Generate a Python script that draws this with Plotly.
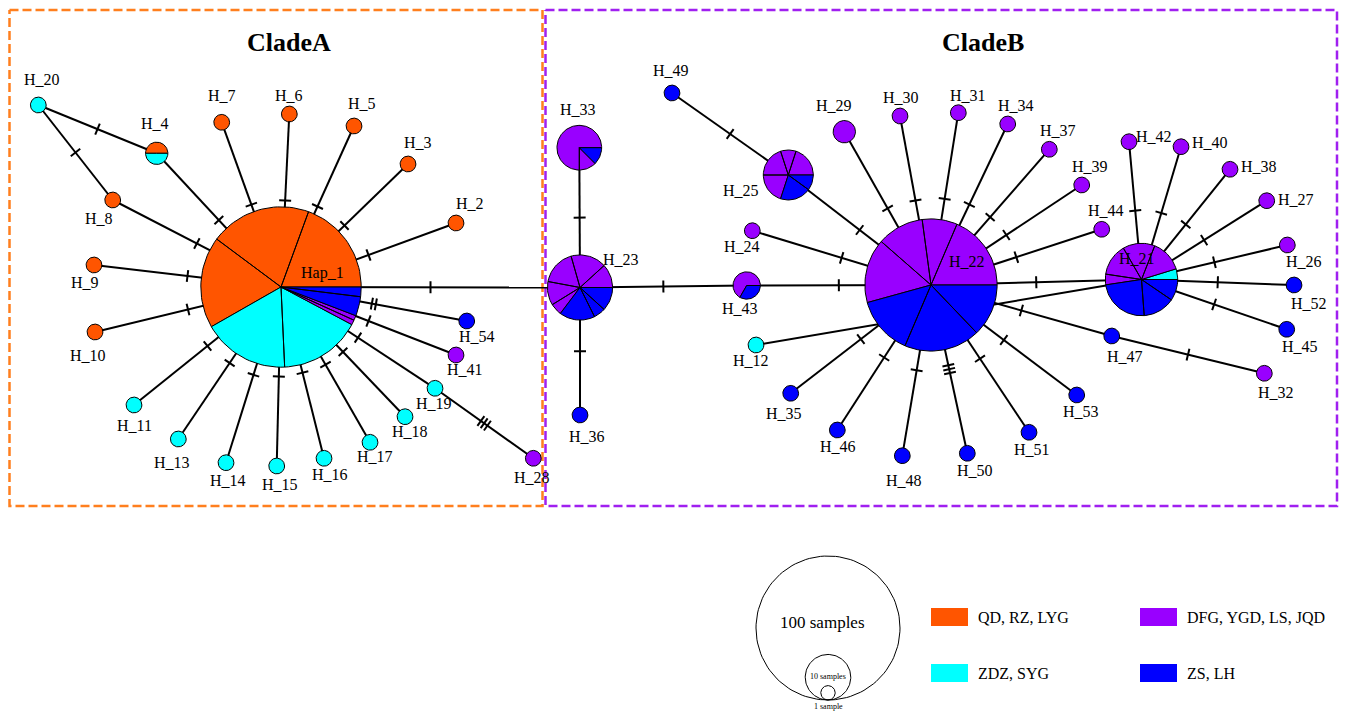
import math
import plotly.graph_objects as go

# ---------------- data ----------------
group_names = ["QD, RZ, LYG", "ZDZ, SYG", "DFG, YGD, LS, JQD", "ZS, LH"]
group_colors = ["#FF5500", "#00FFFF", "#9900FF", "#0000FF"]

hap_names = ["Hap_1", "H_2", "H_3", "H_4", "H_5", "H_6", "H_7", "H_8", "H_9", "H_10",
             "H_11", "H_13", "H_14", "H_15", "H_16", "H_17", "H_18", "H_19", "H_20",
             "H_28", "H_41", "H_54",
             "H_23", "H_33", "H_36", "H_43", "H_22", "H_25", "H_49", "H_24", "H_29",
             "H_30", "H_31", "H_34", "H_37", "H_39", "H_44", "H_21", "H_42", "H_40",
             "H_38", "H_27", "H_26", "H_52", "H_45", "H_32", "H_47", "H_53", "H_51",
             "H_50", "H_48", "H_46", "H_35", "H_12"]
hap_x = [281, 456, 408, 156.7, 354, 289.3, 221.7, 112.7, 94, 95,
         134, 178.3, 226, 276.7, 324, 370, 405, 435, 38.3,
         533.3, 456, 466.7,
         580, 579.3, 580, 746.7, 931, 788.3, 672, 752.3, 844.3,
         900, 958.3, 1007.7, 1049.3, 1081.7, 1101.7, 1141.5, 1129, 1181,
         1230, 1266.7, 1287.3, 1294, 1286.7, 1264.3, 1111.7, 1076.7, 1029,
         967.3, 902.3, 837.3, 790.7, 756]
hap_y = [287, 223, 164, 153.3, 126, 114, 122.3, 200, 265, 332,
         405, 439, 462.7, 466, 458.3, 442.3, 416.7, 388.3, 105,
         458.3, 355, 321,
         287.5, 147.7, 415, 285.5, 285, 175, 93, 230.7, 131.7,
         116, 112.7, 124, 149.3, 185, 229.3, 279.5, 141.7, 146.7,
         169.3, 200.7, 245, 285, 329.3, 373.3, 336, 395, 432.3,
         453.3, 455.7, 430, 393.3, 345]
# pie slices per haplotype: (group index, sample count), counter-clockwise from east
hap_slices = [
    [(0, 20), (0, 21), (0, 19), (1, 18), (1, 17), (2, 1), (2, 1), (3, 4), (3, 2)],
    [(0, 1)], [(0, 1)], [(0, 1), (1, 1)], [(0, 1)], [(0, 1)], [(0, 1)], [(0, 1)], [(0, 1)], [(0, 1)],
    [(1, 1)], [(1, 1)], [(1, 1)], [(1, 1)], [(1, 1)], [(1, 1)], [(1, 1)], [(1, 1)], [(1, 1)],
    [(2, 1)], [(2, 1)], [(3, 1)],
    [(2, 2), (2, 3), (2, 3), (2, 2), (2, 1), (3, 3), (3, 1), (3, 2)],
    [(2, 6), (2, 1), (3, 1)],
    [(3, 1)],
    [(2, 2), (3, 1)],
    [(2, 13), (2, 6), (2, 8), (2, 11), (3, 10), (3, 13), (3, 9)],
    [(2, 2), (2, 1), (2, 2), (2, 2), (3, 2), (3, 1)],
    [(3, 1)], [(2, 1)], [(2, 2)],
    [(2, 1)], [(2, 1)], [(2, 1)], [(2, 1)], [(2, 1)], [(2, 1)],
    [(1, 1), (2, 3), (2, 3), (2, 3), (2, 1), (3, 5), (3, 3), (3, 2)],
    [(2, 1)], [(2, 1)], [(2, 1)], [(2, 1)], [(2, 1)], [(3, 1)], [(3, 1)], [(2, 1)],
    [(3, 1)], [(3, 1)], [(3, 1)], [(3, 1)], [(3, 1)], [(3, 1)], [(3, 1)], [(1, 1)],
]
label_x = [322, 470, 418, 155, 362, 289, 221.7, 98.7, 84.7, 88,
           134.7, 172, 228, 280.3, 329.5, 374.7, 409.7, 434.3, 41.8,
           531.7, 464.7, 477,
           621, 578.3, 586.7, 740, 966.7, 740.5, 671, 742.2, 833.8,
           900.7, 967.7, 1016, 1058, 1090, 1105.8, 1136.7, 1154, 1209.5,
           1259.3, 1296, 1303.8, 1308.7, 1299.5, 1276.3, 1124.7, 1081.3, 1031.7,
           975, 903.8, 838.3, 784.3, 750.5]
label_y = [273, 203, 142, 123.3, 103, 95, 95, 218.3, 282.7, 355,
           425.7, 462.7, 480, 484, 474, 456.7, 431, 403.3, 79.3,
           477.3, 369.3, 336.7,
           259, 109.3, 436.7, 308.3, 261.7, 190, 70, 246, 105.7,
           97.7, 95.7, 105.7, 130, 166, 210, 258.3, 136, 142,
           166.7, 199.3, 261.7, 303.3, 346.7, 392.7, 356.7, 411.7, 449.3,
           470.7, 480, 446, 413.3, 360]

edge_src = ["Hap_1"] * 20 + ["H_20", "H_20", "H_19", "H_23", "H_23", "H_23", "H_43",
            "H_25", "H_22"] + ["H_22"] * 16 + ["H_21"] * 8 + ["H_47"]
edge_dst = ["H_2", "H_3", "H_5", "H_6", "H_7", "H_4", "H_8", "H_9", "H_10", "H_11",
            "H_13", "H_14", "H_15", "H_16", "H_17", "H_18", "H_19", "H_41", "H_54", "H_23",
            "H_4", "H_8", "H_28", "H_33", "H_36", "H_43", "H_22",
            "H_49", "H_25",
            "H_24", "H_29", "H_30", "H_31", "H_34", "H_37", "H_39", "H_44", "H_21",
            "H_47", "H_53", "H_51", "H_50", "H_48", "H_46", "H_35", "H_12",
            "H_42", "H_40", "H_38", "H_27", "H_26", "H_52", "H_45", "H_32",
            "H_32"]
edge_mut = [1] * 18 + [2, 1] + [1, 1, 3, 1, 1, 1, 1, 1, 1] + \
           [1, 1, 1, 1, 1, 1, 1, 1, 1, 1, 1, 1, 3, 1, 1, 1, 3] + [1] * 8 + [1]

clade_titles = ["CladeA", "CladeB"]
clade_title_x = [289, 983]
clade_box_x0 = [9.5, 545.5]
clade_box_x1 = [542.5, 1337]
clade_box_colors = ["#FF7F1E", "#A020F0"]

legend_counts = [100, 10, 1]
legend_texts = ["100 samples", "10 samples", "1 sample"]

# ---------------- build ----------------
K = 7.9
PAGE_OFF = 8  # default page body margin; ranges compensate so data units == page pixels
idx = {n: i for i, n in enumerate(hap_names)}

fig = go.Figure()

# clade boxes
for x0, x1, col in zip(clade_box_x0, clade_box_x1, clade_box_colors):
    fig.add_trace(go.Scatter(x=[x0, x1, x1, x0, x0], y=[10, 10, 506, 506, 10], mode="lines",
                             line=dict(color=col, width=2.5, dash="9px,4px"),
                             hoverinfo="skip", showlegend=False))

# edges
ex, ey, tx, ty = [], [], [], []
for s, d, m in zip(edge_src, edge_dst, edge_mut):
    x1, y1 = hap_x[idx[s]], hap_y[idx[s]]
    x2, y2 = hap_x[idx[d]], hap_y[idx[d]]
    ex += [x1, x2, None]
    ey += [y1, y2, None]
    L = math.hypot(x2 - x1, y2 - y1)
    ux, uy = (x2 - x1) / L, (y2 - y1) / L
    vx, vy = -uy, ux
    mx, my = (x1 + x2) / 2, (y1 + y2) / 2
    for i in range(m):
        off = (i - (m - 1) / 2) * 4.0
        cx, cy = mx + ux * off, my + uy * off
        tx += [cx - vx * 6, cx + vx * 6, None]
        ty += [cy - vy * 6, cy + vy * 6, None]
fig.add_trace(go.Scatter(x=ex, y=ey, mode="lines", line=dict(color="black", width=2),
                         hoverinfo="skip", showlegend=False))
fig.add_trace(go.Scatter(x=tx, y=ty, mode="lines", line=dict(color="black", width=2),
                         hoverinfo="skip", showlegend=False))

# pie nodes
polys = {g: ([], []) for g in range(4)}
for name, cx, cy, sl in zip(hap_names, hap_x, hap_y, hap_slices):
    total = sum(c for _, c in sl)
    r = K * math.sqrt(total)
    a = 0.0
    for g, c in sl:
        span = 2 * math.pi * c / total
        npts = max(6, int(120 * c / total) + 2)
        xs, ys = [], []
        if len(sl) > 1:
            xs.append(cx); ys.append(cy)
        for k in range(npts + 1):
            t = a + span * k / npts
            xs.append(cx + r * math.cos(t)); ys.append(cy - r * math.sin(t))
        xs.append(xs[0]); ys.append(ys[0])
        polys[g][0].extend(xs + [None]); polys[g][1].extend(ys + [None])
        a += span
for g in range(4):
    fig.add_trace(go.Scatter(x=polys[g][0], y=polys[g][1], mode="lines", fill="toself",
                             fillcolor=group_colors[g], line=dict(color="black", width=1),
                             hoverinfo="skip", showlegend=False))

annotations = []
for name, lx, ly in zip(hap_names, label_x, label_y):
    annotations.append(dict(x=lx, y=ly, text=name, showarrow=False, xanchor="center",
                            yanchor="middle", font=dict(family="Liberation Serif", size=16, color="black")))
for t, x in zip(clade_titles, clade_title_x):
    annotations.append(dict(x=x, y=42, text="<b>" + t + "</b>", showarrow=False,
                            font=dict(family="Liberation Serif", size=26, color="black")))

# size legend
KL = 7.2
base_x, base_y = 828, 700
lx_all, ly_all = [], []
for n in legend_counts:
    r = KL * math.sqrt(n)
    for k in range(121):
        t = 2 * math.pi * k / 120
        lx_all.append(base_x + r * math.cos(t)); ly_all.append(base_y - r - r * math.sin(t))
    lx_all.append(None); ly_all.append(None)
fig.add_trace(go.Scatter(x=lx_all, y=ly_all, mode="lines", line=dict(color="black", width=1),
                         hoverinfo="skip", showlegend=False))
annotations.append(dict(x=822, y=622, text=legend_texts[0], showarrow=False,
                        font=dict(family="Liberation Serif", size=17, color="black")))
annotations.append(dict(x=828, y=676, text=legend_texts[1], showarrow=False,
                        font=dict(family="Liberation Serif", size=8, color="black")))
annotations.append(dict(x=828, y=706, text=legend_texts[2], showarrow=False,
                        font=dict(family="Liberation Serif", size=8, color="black")))

# colour legend
sq_x = [931, 931, 1140, 1140]
sq_y = [617, 673, 617, 673]
for g in range(4):
    x0, yc = sq_x[g], sq_y[g]
    fig.add_trace(go.Scatter(x=[x0, x0 + 37, x0 + 37, x0, x0], y=[yc - 9, yc - 9, yc + 9, yc + 9, yc - 9],
                             mode="lines", fill="toself", fillcolor=group_colors[g],
                             line=dict(color=group_colors[g], width=0), hoverinfo="skip", showlegend=False))
    annotations.append(dict(x=x0 + 45, y=yc, text=group_names[g], showarrow=False, xanchor="left",
                            yanchor="middle", font=dict(family="Liberation Serif", size=16, color="black")))

fig.update_layout(width=1352 - PAGE_OFF, height=712 - PAGE_OFF, margin=dict(l=0, r=0, t=0, b=0),
                  paper_bgcolor="white", plot_bgcolor="white", annotations=annotations,
                  xaxis=dict(range=[PAGE_OFF, 1352], visible=False, fixedrange=True),
                  yaxis=dict(range=[712, PAGE_OFF], visible=False, fixedrange=True))
fig.write_html("out.html")
